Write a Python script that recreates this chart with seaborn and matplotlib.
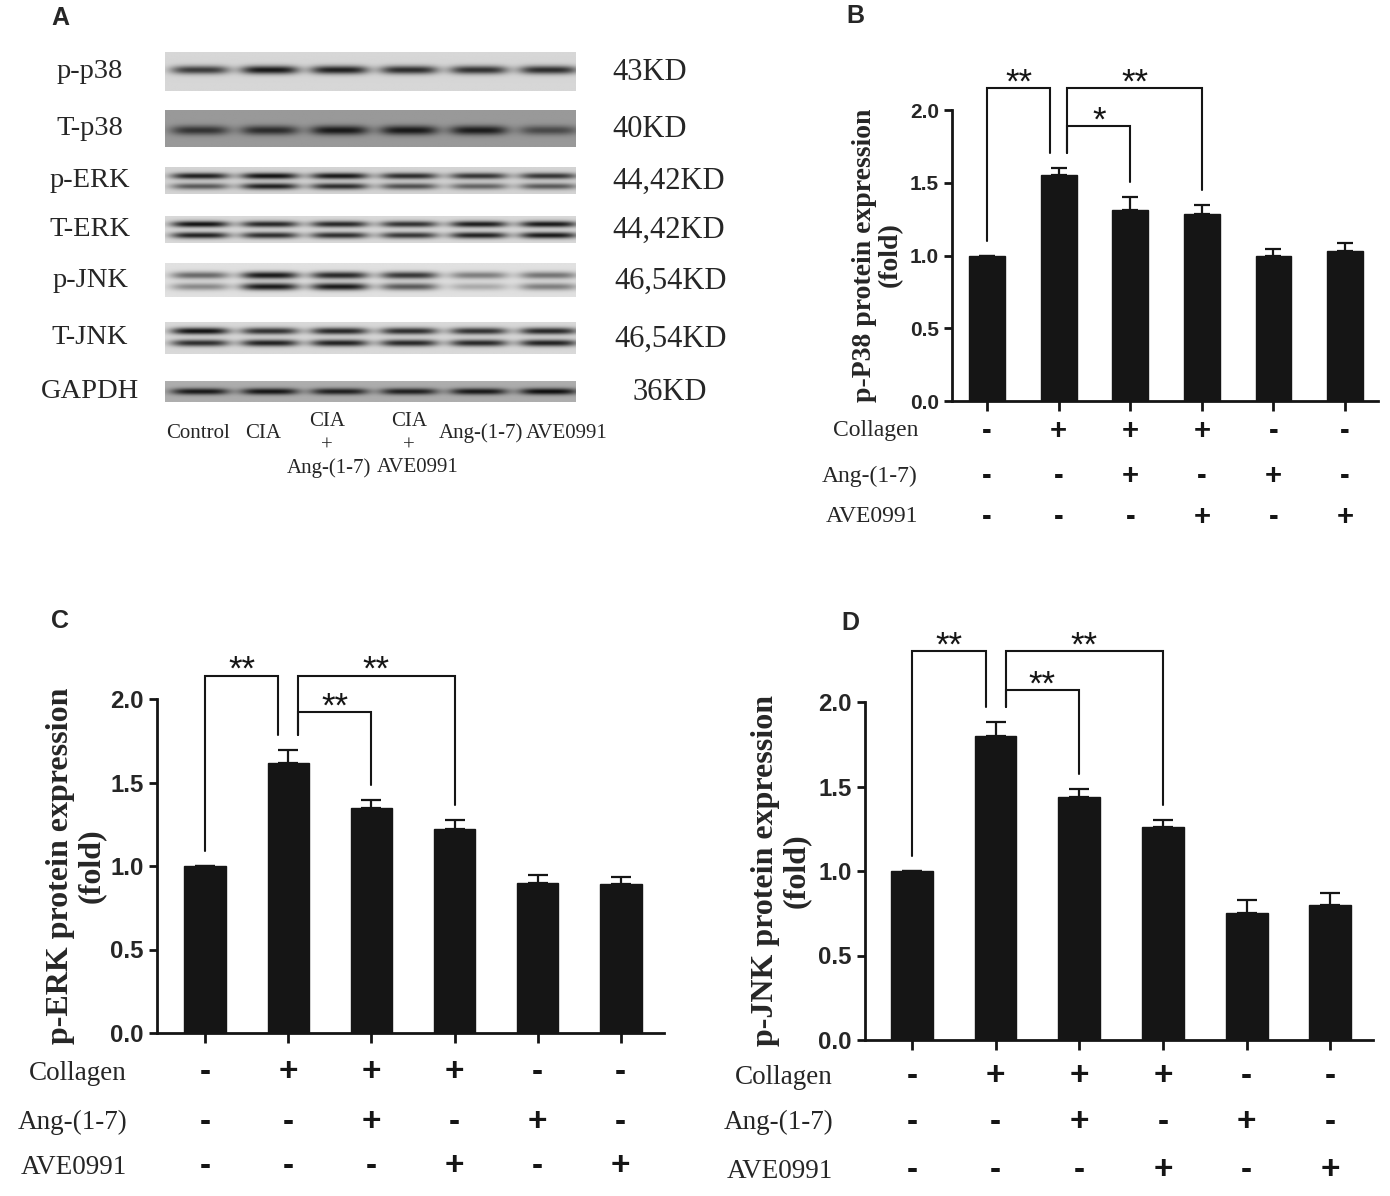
import numpy as np
import matplotlib
matplotlib.use('Agg')
import matplotlib.pyplot as plt
import matplotlib.transforms as mtransforms
import seaborn as sns

W, H = 1390, 1196

# ---------------- data ----------------
lanes = ['Control', 'CIA', 'CIA\n+\nAng-(1-7)', 'CIA\n+\nAVE0991', 'Ang-(1-7)', 'AVE0991']
blot_names = ['p-p38', 'T-p38', 'p-ERK', 'T-ERK', 'p-JNK', 'T-JNK', 'GAPDH']
blot_sizes = ['43KD', '40KD', '44,42KD', '44,42KD', '46,54KD', '46,54KD', '36KD']

# band darkness per lane (0 blank .. 1 black), upper band / lower band
p_p38_band = [0.75, 0.92, 0.88, 0.82, 0.8, 0.82]
t_p38_band = [0.7, 0.75, 0.88, 0.88, 0.86, 0.55]
p_erk_upper = [0.88, 0.95, 0.92, 0.82, 0.78, 0.78]
p_erk_lower = [0.6, 0.88, 0.82, 0.65, 0.55, 0.6]
t_erk_upper = [0.95, 0.85, 0.85, 0.8, 0.9, 0.92]
t_erk_lower = [0.88, 0.82, 0.82, 0.78, 0.88, 0.92]
p_jnk_upper = [0.55, 0.92, 0.85, 0.78, 0.45, 0.5]
p_jnk_lower = [0.4, 0.92, 0.92, 0.62, 0.25, 0.45]
t_jnk_upper = [0.95, 0.8, 0.85, 0.82, 0.8, 0.85]
t_jnk_lower = [0.82, 0.88, 0.88, 0.85, 0.85, 0.88]
gapdh_band = [0.9, 0.92, 0.86, 0.86, 0.9, 0.96]

groups = ['G1', 'G2', 'G3', 'G4', 'G5', 'G6']
collagen = ['-', '+', '+', '+', '-', '-']
ang17 = ['-', '-', '+', '-', '+', '-']
ave0991 = ['-', '-', '-', '+', '-', '+']
row_names = ['Collagen', 'Ang-(1-7)', 'AVE0991']

p38_mean = [1.00, 1.55, 1.31, 1.285, 0.995, 1.033]
p38_sem = [0.0, 0.05, 0.09, 0.06, 0.05, 0.055]
erk_mean = [1.00, 1.617, 1.35, 1.22, 0.90, 0.89]
erk_sem = [0.0, 0.08, 0.045, 0.055, 0.045, 0.045]
jnk_mean = [1.00, 1.80, 1.437, 1.26, 0.75, 0.80]
jnk_sem = [0.0, 0.08, 0.05, 0.04, 0.08, 0.067]

# comparisons: (group a, group b, label)
p38_tests = [(0, 1, '**'), (1, 3, '**'), (1, 2, '*')]
erk_tests = [(0, 1, '**'), (1, 3, '**'), (1, 2, '**')]
jnk_tests = [(0, 1, '**'), (1, 3, '**'), (1, 2, '**')]

# ---------------- style ----------------
sns.set_style('ticks')
plt.rcParams['font.family'] = ['Liberation Serif', 'DejaVu Serif']
serif = ['Liberation Serif', 'DejaVu Serif']
sans = ['Liberation Sans', 'DejaVu Sans']
ink = '#151515'

fig = plt.figure(figsize=(W / 100, H / 100), dpi=100)


def fx(px):
    return px / W


def fy(py):
    return 1 - py / H


def rect(left, top, right, bottom):
    return [fx(left), fy(bottom), (right - left) / W, (bottom - top) / H]


# ---------------- panel A: blot ----------------
strips = [
    (blot_names[0], blot_sizes[0], [p_p38_band], [0.46], 0.16, (52, 91), 0.11),
    (blot_names[1], blot_sizes[1], [t_p38_band], [0.55], 0.40, (110, 147), 0.13),
    (blot_names[2], blot_sizes[2], [p_erk_upper, p_erk_lower], [0.33, 0.72], 0.17, (167, 194), 0.12),
    (blot_names[3], blot_sizes[3], [t_erk_upper, t_erk_lower], [0.30, 0.72], 0.15, (216, 243), 0.12),
    (blot_names[4], blot_sizes[4], [p_jnk_upper, p_jnk_lower], [0.36, 0.70], 0.12, (263, 297), 0.11),
    (blot_names[5], blot_sizes[5], [t_jnk_upper, t_jnk_lower], [0.28, 0.66], 0.15, (322, 354), 0.11),
    (blot_names[6], blot_sizes[6], [gapdh_band], [0.5], 0.32, (381, 402), 0.16),
]
size_x = [612, 612, 612, 612, 614, 614, 632]
lane_lo, lane_hi = -0.5, 5.39
xs = np.linspace(lane_lo, lane_hi, 420)
for k, (name, kd, bands, centres, bg, (top, bottom), thick) in enumerate(strips):
    ys = np.linspace(0, 1, 60)
    img = np.full((ys.size, xs.size), bg)
    for band, yc in zip(bands, centres):
        for i, d in enumerate(band):
            px = np.exp(-np.abs((xs - i) / 0.42) ** 4)
            py = np.exp(-((ys - yc) / thick) ** 2)
            img += (0.97 - bg) * d * np.outer(py, px)
    ax = fig.add_axes(rect(165, top, 576, bottom))
    ax.imshow(np.clip(img, 0, 1), cmap='gray_r', vmin=0, vmax=1, aspect='auto',
              extent=(lane_lo, lane_hi, 1, 0), interpolation='bilinear')
    ax.set_axis_off()
    yc = (top + bottom) / 2
    fig.text(fx(90), fy(yc), name, ha='center', va='center', fontsize=20.5, family=serif)
    fig.text(fx(size_x[k]), fy(yc + 1), kd, ha='left', va='center', fontsize=22, family=serif)

# lane captions: one text per line
lane_label_x = [198, 263, 327, 409, 481, 567]
last_line_shift = [0, 0, 2, 9, 0, 0]
for lab, x, dx in zip(lanes, lane_label_x, last_line_shift):
    parts = lab.split('\n')
    if len(parts) == 1:
        fig.text(fx(x), fy(433), parts[0], ha='center', va='center', fontsize=15, family=serif)
    else:
        for j, (part, py) in enumerate(zip(parts, [421, 446, 468])):
            xx = x + dx if j == len(parts) - 1 else x
            fig.text(fx(xx), fy(py), part, ha='center', va='center', fontsize=15,
                     family=serif)


# ---------------- bar panels ----------------
def bar_panel(box, xlim, means, sems, tests, levels, ylabel, ylab_xy, rows_y, row_x, s):
    left, top, right, bottom = box
    ax = fig.add_axes(rect(left, top, right, bottom))
    sns.barplot(x=groups, y=means, color=ink, width=0.5, errorbar=None,
                saturation=1, edgecolor=ink, ax=ax)
    ax.errorbar(range(len(groups)), means, yerr=[np.zeros(len(sems)), sems], fmt='none',
                ecolor=ink, elinewidth=1.6, capsize=6 * s, capthick=1.6)
    ax.set_xlim(*xlim)
    ax.set_ylim(0, 2.0)
    ax.set_yticks([0, 0.5, 1.0, 1.5, 2.0])
    ax.set_yticklabels(['0.0', '0.5', '1.0', '1.5', '2.0'])
    ax.set_xticks(range(len(groups)))
    ax.set_xticklabels([])
    sns.despine(ax=ax)
    for sp in ('left', 'bottom'):
        ax.spines[sp].set_linewidth(2.0)
        ax.spines[sp].set_color(ink)
    ax.tick_params(axis='both', width=2.0, length=6, color=ink)
    ax.tick_params(axis='x', length=7)
    for t in ax.get_yticklabels():
        t.set_fontfamily(sans)
        t.set_fontweight('bold')
        t.set_fontsize(15 * s)
    ax.set_ylabel('')
    fig.text(fx(ylab_xy[0]), fy(ylab_xy[1]), ylabel, rotation=90, ha='center', va='center',
             fontsize=20 * s, fontweight='bold', family=serif, linespacing=1.05)

    # significance brackets
    px_unit = (bottom - top) / 2.0
    gap = 15 / px_unit
    tops = [m + e for m, e in zip(means, sems)]
    for (a, b, lab), lev in zip(tests, levels):
        xa = a if a == 0 else a + 0.12
        xb = b - 0.12 if b == 1 else b
        ya = tops[a] + gap
        yb = tops[b] + gap
        ax.plot([xa, xa, xb, xb], [ya, lev, lev, yb], color=ink, lw=1.5,
                clip_on=False, solid_joinstyle='miter')
        ax.annotate(lab, xy=((xa + xb) / 2, lev), xytext=(0, -3), textcoords='offset points',
                    ha='center', va='baseline', fontsize=25, family=sans,
                    annotation_clip=False, color=ink)

    # treatment rows
    trans = mtransforms.blended_transform_factory(ax.transData, fig.transFigure)
    for signs, name, ry in zip([collagen, ang17, ave0991], row_names, rows_y):
        fig.text(fx(row_x), fy(ry), name, ha='right', va='center', fontsize=17 * s,
                 family=serif)
        for i, sg in enumerate(signs):
            ax.text(i, fy(ry), sg, transform=trans, ha='center', va='center',
                    fontsize=21 * s, fontweight='bold', family=sans, color=ink)
    return ax


bar_panel((952, 110, 1378, 401), (-0.49, 5.46), p38_mean, p38_sem, p38_tests,
          [2.15, 2.15, 1.89], 'p-P38 protein expression\n(fold)', (877, 255),
          [431, 476, 517], 918, 1.0)
bar_panel((157, 699, 664, 1033), (-0.58, 5.52), erk_mean, erk_sem, erk_tests,
          [2.14, 2.14, 1.92], 'p-ERK protein expression\n(fold)', (76, 866),
          [1073, 1122, 1167], 127, 1.15)
bar_panel((865, 702, 1373, 1040), (-0.56, 5.51), jnk_mean, jnk_sem, jnk_tests,
          [2.30, 2.30, 2.07], 'p-JNK protein expression\n(fold)', (781, 871),
          [1077, 1122, 1171], 833, 1.15)

# panel letters
for lab, x, y in [('A', 60, 18), ('B', 855, 16), ('C', 60, 621), ('D', 850, 623)]:
    fig.text(fx(x), fy(y), lab, ha='center', va='center', fontsize=18,
             fontweight='bold', family=sans)

fig.savefig('out.png', dpi=100)
